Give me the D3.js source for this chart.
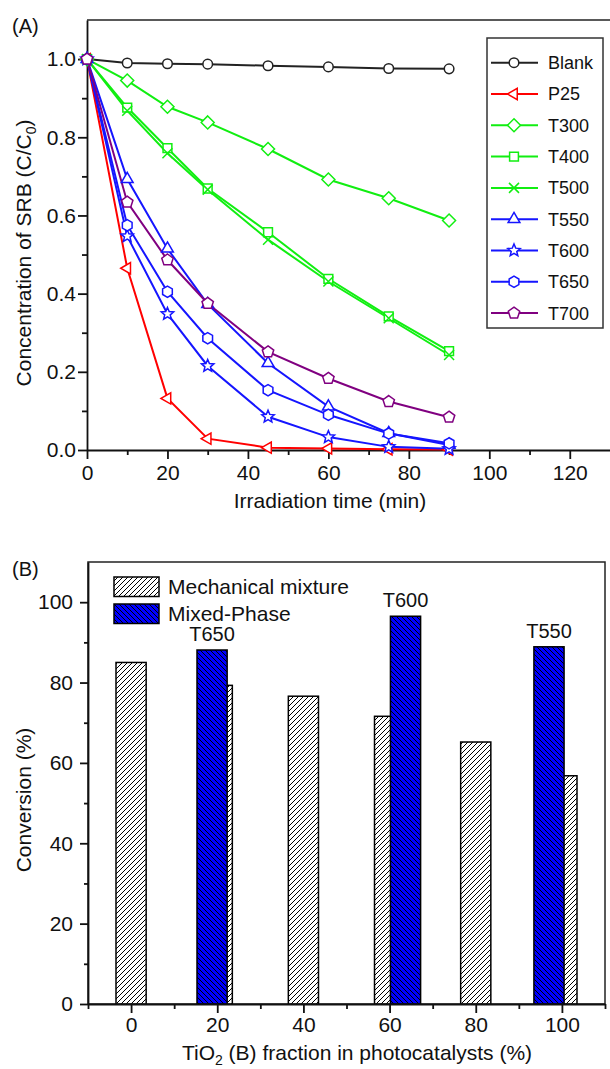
<!DOCTYPE html>
<html>
<head>
<meta charset="utf-8">
<script src="https://cdn.jsdelivr.net/npm/d3@7"></script>
<style>
  body { margin: 0; background: #fff; }
  text { font-family: "Liberation Sans", Arial, sans-serif; fill: #111; }
</style>
</head>
<body>
<div id="chart"></div>
<script>
// ---- data (A): SRB degradation ----
const times = [0, 10, 20, 30, 45, 60, 75, 90];
const blank = [1.0, 0.990, 0.988, 0.987, 0.983, 0.980, 0.976, 0.975];
const p25   = [1.0, 0.465, 0.132, 0.029, 0.006, 0.004, 0.002, 0.001];
const t300  = [1.0, 0.945, 0.878, 0.838, 0.770, 0.692, 0.644, 0.587];
const t400  = [1.0, 0.876, 0.772, 0.669, 0.557, 0.438, 0.342, 0.253];
const t500  = [1.0, 0.868, 0.759, 0.666, 0.538, 0.431, 0.337, 0.243];
const t550  = [1.0, 0.693, 0.515, 0.373, 0.222, 0.111, 0.043, 0.013];
const t600  = [1.0, 0.547, 0.348, 0.215, 0.085, 0.033, 0.008, 0.003];
const t650  = [1.0, 0.575, 0.405, 0.286, 0.153, 0.090, 0.042, 0.017];
const t700  = [1.0, 0.634, 0.486, 0.375, 0.251, 0.183, 0.124, 0.084];
const seriesNames = ["Blank", "P25", "T300", "T400", "T500", "T550", "T600", "T650", "T700"];
const xTicksA = [0, 20, 40, 60, 80, 100, 120];
const yTicksA = [0, 0.2, 0.4, 0.6, 0.8, 1.0];

// ---- data (B): conversion ----
const fractions = [0, 20, 40, 60, 80, 100];
const mechanical = [85.0, 79.3, 76.6, 71.6, 65.2, 56.8];
const mixedX = [18.8, 63.7, 97.0];
const mixed = [88.1, 96.5, 88.9];
const mixedLabels = ["T650", "T600", "T550"];
const yTicksB = [0, 20, 40, 60, 80, 100];

const FS = 21; // axis text size
const green = "#11ee11", blue = "#1515ff";
const series = [
  { name: seriesNames[0], values: blank, color: "#222", shape: "circle" },
  { name: seriesNames[1], values: p25, color: "#ff0000", shape: "triLeft" },
  { name: seriesNames[2], values: t300, color: green, shape: "diamond" },
  { name: seriesNames[3], values: t400, color: green, shape: "square" },
  { name: seriesNames[4], values: t500, color: green, shape: "cross" },
  { name: seriesNames[5], values: t550, color: blue, shape: "triUp" },
  { name: seriesNames[6], values: t600, color: blue, shape: "star" },
  { name: seriesNames[7], values: t650, color: blue, shape: "hexagon" },
  { name: seriesNames[8], values: t700, color: "#800080", shape: "pentagon" }
];

function polygon(n, r, startDeg, inner) {
  const pts = [];
  const count = inner ? n * 2 : n;
  for (let i = 0; i < count; i++) {
    const a = (startDeg + i * 360 / count) * Math.PI / 180;
    const rr = inner && i % 2 ? r * inner : r;
    pts.push([rr * Math.cos(a), rr * Math.sin(a)]);
  }
  return "M" + pts.map(p => p[0].toFixed(2) + "," + p[1].toFixed(2)).join("L") + "Z";
}
function shapePath(shape) {
  switch (shape) {
    case "circle": return "M4.8,0A4.8,4.8 0 1 1 -4.8,0A4.8,4.8 0 1 1 4.8,0Z";
    case "triLeft": return polygon(3, 6.5, 180);
    case "diamond": return polygon(4, 6.5, -90);
    case "square": return "M-4.4,-4.4H4.4V4.4H-4.4Z";
    case "cross": return "M-5,-5L5,5M-5,5L5,-5";
    case "triUp": return polygon(3, 6.8, -90);
    case "star": return polygon(5, 6.5, -90, 0.45);
    case "hexagon": return polygon(6, 5.6, -90);
    case "pentagon": return polygon(5, 6, -90);
  }
}

const svg = d3.select("#chart").append("svg")
  .attr("width", 610).attr("height", 1069);

// ================= (A) =================
const xA = d3.scaleLinear().domain([0, 130]).range([87, 610]);
const yA = d3.scaleLinear().domain([0, 1.1]).range([450, 20]);

const gA = svg.append("g");

// frame top line
gA.append("line").attr("x1", 87).attr("x2", 610).attr("y1", 20).attr("y2", 20)
  .attr("stroke", "#222").attr("stroke-width", 1.5);

function styleAxis(g) {
  g.attr("font-size", FS).attr("font-family", "Liberation Sans, Arial, sans-serif");
  g.selectAll("path,line").attr("stroke", "#111").attr("stroke-width", 1.8);
  g.selectAll("text").attr("fill", "#111");
}

gA.append("g").attr("transform", "translate(0,450)")
  .call(d3.axisBottom(xA).tickValues(xTicksA).tickSize(9).tickSizeOuter(0).tickPadding(6))
  .call(styleAxis);
gA.append("g").attr("transform", "translate(0,450)")
  .call(d3.axisBottom(xA).tickValues([10, 30, 50, 70, 90, 110]).tickSize(5).tickFormat(""))
  .call(styleAxis).select(".domain").remove();
gA.append("g").attr("transform", "translate(87,0)")
  .call(d3.axisLeft(yA).tickValues(yTicksA).tickFormat(d3.format(".1f")).tickSize(9).tickSizeOuter(0).tickPadding(2))
  .call(styleAxis);
gA.append("g").attr("transform", "translate(87,0)")
  .call(d3.axisLeft(yA).tickValues([0.1, 0.3, 0.5, 0.7, 0.9]).tickSize(5).tickFormat(""))
  .call(styleAxis).select(".domain").remove();

const line = d3.line().x((d, i) => xA(times[i])).y(d => yA(d));
series.forEach(s => {
  gA.append("path").datum(s.values)
    .attr("fill", "none").attr("stroke", s.color).attr("stroke-width", 2)
    .attr("d", line);
});
series.forEach(s => {
  gA.selectAll(null).data(s.values).enter().append("path")
    .attr("transform", (d, i) => "translate(" + xA(times[i]) + "," + yA(d) + ")")
    .attr("d", shapePath(s.shape))
    .attr("fill", s.shape === "cross" ? "none" : "#fff")
    .attr("stroke", s.color).attr("stroke-width", 1.5);
});

// legend (A)
const legA = gA.append("g");
legA.append("rect").attr("x", 487).attr("y", 38).attr("width", 116).attr("height", 290)
  .attr("fill", "#fff").attr("stroke", "#333").attr("stroke-width", 1.5);
series.forEach((s, i) => {
  const y = 62.7 + i * 31.3;
  legA.append("line").attr("x1", 491).attr("x2", 538).attr("y1", y).attr("y2", y)
    .attr("stroke", s.color).attr("stroke-width", 2);
  legA.append("path").attr("transform", "translate(514," + y + ")")
    .attr("d", shapePath(s.shape))
    .attr("fill", s.shape === "cross" ? "none" : "#fff")
    .attr("stroke", s.color).attr("stroke-width", 1.5);
  legA.append("text").attr("x", 548).attr("y", y).attr("dy", "0.36em")
    .attr("font-size", 18).text(s.name);
});

gA.append("text").attr("x", 12).attr("y", 33).attr("font-size", 20).text("(A)");
gA.append("text").attr("x", 330).attr("y", 508).attr("font-size", FS)
  .attr("text-anchor", "middle").text("Irradiation time (min)");
const yTitleA = gA.append("text").attr("transform", "translate(31,253) rotate(-90)")
  .attr("font-size", FS).attr("text-anchor", "middle");
yTitleA.append("tspan").text("Concentration of SRB (C/C");
yTitleA.append("tspan").attr("font-size", 14).attr("dy", 5).text("0");
yTitleA.append("tspan").attr("dy", -5).text(")");

// ================= (B) =================
const xB = d3.scaleLinear().domain([-10, 110]).range([88, 605]);
const yB = d3.scaleLinear().domain([0, 110]).range([1004, 562]);
const barW = xB(7) - xB(0);

// hatch tiles: "///" on white, "\\\" on blue
const defs = svg.append("defs");
const hatchM = defs.append("pattern").attr("id", "hatchMech")
  .attr("patternUnits", "userSpaceOnUse").attr("width", 5).attr("height", 5);
hatchM.append("rect").attr("width", 5).attr("height", 5).attr("fill", "#fff");
hatchM.append("path").attr("d", "M0,5L5,0M-1,1L1,-1M4,6L6,4")
  .attr("stroke", "#000").attr("stroke-width", 1);
const hatchB = defs.append("pattern").attr("id", "hatchMixed")
  .attr("patternUnits", "userSpaceOnUse").attr("width", 5).attr("height", 5);
hatchB.append("rect").attr("width", 5).attr("height", 5).attr("fill", "#0000ff");
hatchB.append("path").attr("d", "M0,0L5,5M-1,4L1,6M4,-1L6,1")
  .attr("stroke", "#000").attr("stroke-width", 1);

const gB = svg.append("g");
gB.append("rect").attr("x", xB(-10)).attr("y", yB(110))
  .attr("width", xB(110) - xB(-10)).attr("height", yB(0) - yB(110))
  .attr("fill", "none").attr("stroke", "#222").attr("stroke-width", 1.5);

gB.selectAll(".mech").data(mechanical).enter().append("rect")
  .attr("x", (d, i) => xB(fractions[i]) - barW / 2)
  .attr("y", d => yB(d))
  .attr("width", barW).attr("height", d => yB(0) - yB(d))
  .attr("fill", "url(#hatchMech)").attr("stroke", "#000").attr("stroke-width", 1.5);

gB.selectAll(".mix").data(mixed).enter().append("rect")
  .attr("x", (d, i) => xB(mixedX[i]) - barW / 2)
  .attr("y", d => yB(d))
  .attr("width", barW).attr("height", d => yB(0) - yB(d))
  .attr("fill", "url(#hatchMixed)").attr("stroke", "#000").attr("stroke-width", 1.5);

gB.selectAll(".mixlab").data(mixed).enter().append("text")
  .attr("x", (d, i) => xB(mixedX[i]))
  .attr("y", d => yB(d) - 9)
  .attr("text-anchor", "middle").attr("font-size", 20)
  .text((d, i) => mixedLabels[i]);

gB.append("g").attr("transform", "translate(0,1004)")
  .call(d3.axisBottom(xB).tickValues(fractions).tickSize(9).tickSizeOuter(0).tickPadding(4))
  .call(styleAxis);
gB.append("g").attr("transform", "translate(0,1004)")
  .call(d3.axisBottom(xB).tickValues([-10, 10, 30, 50, 70, 90, 110]).tickSize(5).tickFormat(""))
  .call(styleAxis).select(".domain").remove();
gB.append("g").attr("transform", "translate(88,0)")
  .call(d3.axisLeft(yB).tickValues(yTicksB).tickSize(8).tickSizeOuter(0).tickPadding(7))
  .call(styleAxis);
gB.append("g").attr("transform", "translate(88,0)")
  .call(d3.axisLeft(yB).tickValues([10, 30, 50, 70, 90]).tickSize(4).tickFormat(""))
  .call(styleAxis).select(".domain").remove();

// legend (B)
const legB = [["Mechanical mixture", "url(#hatchMech)"], ["Mixed-Phase", "url(#hatchMixed)"]];
legB.forEach((l, i) => {
  const y = 577 + i * 27;
  gB.append("rect").attr("x", 114).attr("y", y).attr("width", 45).attr("height", 19.5)
    .attr("fill", l[1]).attr("stroke", "#000").attr("stroke-width", 1.5);
  gB.append("text").attr("x", 168).attr("y", y + 17).attr("font-size", FS).text(l[0]);
});

gB.append("text").attr("x", 12).attr("y", 576).attr("font-size", 20).text("(B)");
const xTitleB = gB.append("text").attr("x", 357).attr("y", 1060)
  .attr("font-size", FS).attr("text-anchor", "middle");
xTitleB.append("tspan").text("TiO");
xTitleB.append("tspan").attr("font-size", 14).attr("dy", 5).text("2");
xTitleB.append("tspan").attr("dy", -5).text(" (B) fraction in photocatalysts (%)");
gB.append("text").attr("transform", "translate(31,800) rotate(-90)")
  .attr("font-size", FS).attr("text-anchor", "middle").text("Conversion (%)");
</script>
</body>
</html>
